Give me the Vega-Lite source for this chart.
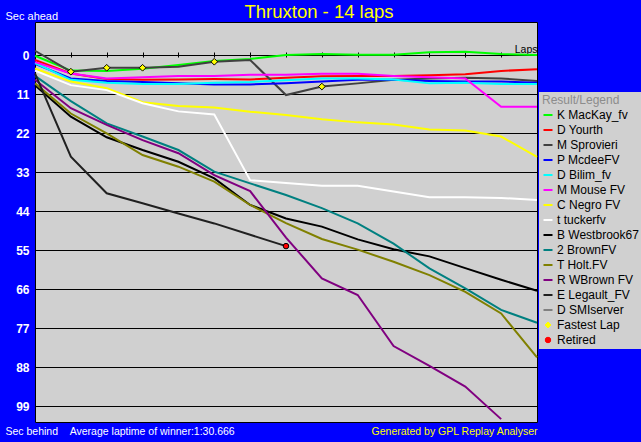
{
  "$schema": "https://vega.github.io/schema/vega-lite/v6.json",
  "width": 502,
  "height": 400,
  "autosize": {"type": "none"},
  "padding": {"left": 35, "top": 22, "right": 104, "bottom": 20},
  "background": "#0000ff",
  "title": {"text": "Thruxton - 14 laps", "color": "#ffff00", "font": "Liberation Sans", "fontSize": 18.5, "fontWeight": "normal", "anchor": "middle", "frame": "group", "baseline": "alphabetic", "offset": 0, "dx": 33, "dy": 26.5},
  "datasets": {
    "laps": [
      {"driver": "K MacKay_fv", "lap": 0, "sec": 0.2}, {"driver": "K MacKay_fv", "lap": 1, "sec": 4.4}, {"driver": "K MacKay_fv", "lap": 2, "sec": 4.5}, {"driver": "K MacKay_fv", "lap": 3, "sec": 3.9}, {"driver": "K MacKay_fv", "lap": 4, "sec": 2.8}, {"driver": "K MacKay_fv", "lap": 5, "sec": 1.7}, {"driver": "K MacKay_fv", "lap": 6, "sec": 1.1}, {"driver": "K MacKay_fv", "lap": 7, "sec": 0}, {"driver": "K MacKay_fv", "lap": 8, "sec": -0.3}, {"driver": "K MacKay_fv", "lap": 9, "sec": -0.1}, {"driver": "K MacKay_fv", "lap": 10, "sec": -0.1}, {"driver": "K MacKay_fv", "lap": 11, "sec": -0.8}, {"driver": "K MacKay_fv", "lap": 12, "sec": -0.9}, {"driver": "K MacKay_fv", "lap": 13, "sec": -0.3}, {"driver": "K MacKay_fv", "lap": 14, "sec": 0},
      {"driver": "D Yourth", "lap": 0, "sec": 1.4}, {"driver": "D Yourth", "lap": 1, "sec": 5.2}, {"driver": "D Yourth", "lap": 2, "sec": 6.8}, {"driver": "D Yourth", "lap": 3, "sec": 7.0}, {"driver": "D Yourth", "lap": 4, "sec": 6.9}, {"driver": "D Yourth", "lap": 5, "sec": 6.8}, {"driver": "D Yourth", "lap": 6, "sec": 6.9}, {"driver": "D Yourth", "lap": 7, "sec": 6.4}, {"driver": "D Yourth", "lap": 8, "sec": 6.0}, {"driver": "D Yourth", "lap": 9, "sec": 5.9}, {"driver": "D Yourth", "lap": 10, "sec": 5.9}, {"driver": "D Yourth", "lap": 11, "sec": 5.7}, {"driver": "D Yourth", "lap": 12, "sec": 5.4}, {"driver": "D Yourth", "lap": 13, "sec": 4.5}, {"driver": "D Yourth", "lap": 14, "sec": 4.0},
      {"driver": "M Sprovieri", "lap": 0, "sec": -1.2}, {"driver": "M Sprovieri", "lap": 1, "sec": 4.7}, {"driver": "M Sprovieri", "lap": 2, "sec": 3.6}, {"driver": "M Sprovieri", "lap": 3, "sec": 3.6}, {"driver": "M Sprovieri", "lap": 4, "sec": 3.3}, {"driver": "M Sprovieri", "lap": 5, "sec": 1.9}, {"driver": "M Sprovieri", "lap": 6, "sec": 1.4}, {"driver": "M Sprovieri", "lap": 7, "sec": 11.3}, {"driver": "M Sprovieri", "lap": 8, "sec": 8.9}, {"driver": "M Sprovieri", "lap": 9, "sec": 8.0}, {"driver": "M Sprovieri", "lap": 10, "sec": 7.0}, {"driver": "M Sprovieri", "lap": 11, "sec": 6.6}, {"driver": "M Sprovieri", "lap": 12, "sec": 6.4}, {"driver": "M Sprovieri", "lap": 13, "sec": 6.6}, {"driver": "M Sprovieri", "lap": 14, "sec": 7.3},
      {"driver": "P McdeeFV", "lap": 0, "sec": 2.5}, {"driver": "P McdeeFV", "lap": 1, "sec": 6.6}, {"driver": "P McdeeFV", "lap": 2, "sec": 7.3}, {"driver": "P McdeeFV", "lap": 3, "sec": 7.6}, {"driver": "P McdeeFV", "lap": 4, "sec": 8.0}, {"driver": "P McdeeFV", "lap": 5, "sec": 8.3}, {"driver": "P McdeeFV", "lap": 6, "sec": 8.3}, {"driver": "P McdeeFV", "lap": 7, "sec": 8.0}, {"driver": "P McdeeFV", "lap": 8, "sec": 7.5}, {"driver": "P McdeeFV", "lap": 9, "sec": 7.0}, {"driver": "P McdeeFV", "lap": 10, "sec": 7.0}, {"driver": "P McdeeFV", "lap": 11, "sec": 7.3}, {"driver": "P McdeeFV", "lap": 12, "sec": 7.5}, {"driver": "P McdeeFV", "lap": 13, "sec": 7.5}, {"driver": "P McdeeFV", "lap": 14, "sec": 7.8},
      {"driver": "D Bilim_fv", "lap": 0, "sec": 2.3}, {"driver": "D Bilim_fv", "lap": 1, "sec": 7.0}, {"driver": "D Bilim_fv", "lap": 2, "sec": 7.8}, {"driver": "D Bilim_fv", "lap": 3, "sec": 8.2}, {"driver": "D Bilim_fv", "lap": 4, "sec": 8.2}, {"driver": "D Bilim_fv", "lap": 5, "sec": 7.8}, {"driver": "D Bilim_fv", "lap": 6, "sec": 7.6}, {"driver": "D Bilim_fv", "lap": 7, "sec": 7.1}, {"driver": "D Bilim_fv", "lap": 8, "sec": 6.6}, {"driver": "D Bilim_fv", "lap": 9, "sec": 6.6}, {"driver": "D Bilim_fv", "lap": 10, "sec": 6.9}, {"driver": "D Bilim_fv", "lap": 11, "sec": 8.0}, {"driver": "D Bilim_fv", "lap": 12, "sec": 7.8}, {"driver": "D Bilim_fv", "lap": 13, "sec": 8.2}, {"driver": "D Bilim_fv", "lap": 14, "sec": 8.2},
      {"driver": "M Mouse FV", "lap": 0, "sec": 2.0}, {"driver": "M Mouse FV", "lap": 1, "sec": 5.2}, {"driver": "M Mouse FV", "lap": 2, "sec": 6.6}, {"driver": "M Mouse FV", "lap": 3, "sec": 6.3}, {"driver": "M Mouse FV", "lap": 4, "sec": 5.9}, {"driver": "M Mouse FV", "lap": 5, "sec": 5.9}, {"driver": "M Mouse FV", "lap": 6, "sec": 5.6}, {"driver": "M Mouse FV", "lap": 7, "sec": 5.6}, {"driver": "M Mouse FV", "lap": 8, "sec": 5.3}, {"driver": "M Mouse FV", "lap": 9, "sec": 5.3}, {"driver": "M Mouse FV", "lap": 10, "sec": 5.9}, {"driver": "M Mouse FV", "lap": 11, "sec": 6.3}, {"driver": "M Mouse FV", "lap": 12, "sec": 6.6}, {"driver": "M Mouse FV", "lap": 13, "sec": 14.6}, {"driver": "M Mouse FV", "lap": 14, "sec": 14.6},
      {"driver": "C Negro FV", "lap": 0, "sec": 3.8}, {"driver": "C Negro FV", "lap": 1, "sec": 7.5}, {"driver": "C Negro FV", "lap": 2, "sec": 9.4}, {"driver": "C Negro FV", "lap": 3, "sec": 13.3}, {"driver": "C Negro FV", "lap": 4, "sec": 14.4}, {"driver": "C Negro FV", "lap": 5, "sec": 14.8}, {"driver": "C Negro FV", "lap": 6, "sec": 16.0}, {"driver": "C Negro FV", "lap": 7, "sec": 16.9}, {"driver": "C Negro FV", "lap": 8, "sec": 18.1}, {"driver": "C Negro FV", "lap": 9, "sec": 19.0}, {"driver": "C Negro FV", "lap": 10, "sec": 19.6}, {"driver": "C Negro FV", "lap": 11, "sec": 21.0}, {"driver": "C Negro FV", "lap": 12, "sec": 21.3}, {"driver": "C Negro FV", "lap": 13, "sec": 23.0}, {"driver": "C Negro FV", "lap": 14, "sec": 28.7},
      {"driver": "t tuckerfv", "lap": 0, "sec": 4.4}, {"driver": "t tuckerfv", "lap": 1, "sec": 8.5}, {"driver": "t tuckerfv", "lap": 2, "sec": 9.9}, {"driver": "t tuckerfv", "lap": 3, "sec": 13.6}, {"driver": "t tuckerfv", "lap": 4, "sec": 15.9}, {"driver": "t tuckerfv", "lap": 5, "sec": 16.8}, {"driver": "t tuckerfv", "lap": 6, "sec": 35.3}, {"driver": "t tuckerfv", "lap": 7, "sec": 36.1}, {"driver": "t tuckerfv", "lap": 8, "sec": 36.9}, {"driver": "t tuckerfv", "lap": 9, "sec": 36.9}, {"driver": "t tuckerfv", "lap": 10, "sec": 38.5}, {"driver": "t tuckerfv", "lap": 11, "sec": 40.1}, {"driver": "t tuckerfv", "lap": 12, "sec": 40.1}, {"driver": "t tuckerfv", "lap": 13, "sec": 40.3}, {"driver": "t tuckerfv", "lap": 14, "sec": 40.9},
      {"driver": "B Westbrook67", "lap": 0, "sec": 8.5}, {"driver": "B Westbrook67", "lap": 1, "sec": 17.4}, {"driver": "B Westbrook67", "lap": 2, "sec": 23.2}, {"driver": "B Westbrook67", "lap": 3, "sec": 26.8}, {"driver": "B Westbrook67", "lap": 4, "sec": 30.1}, {"driver": "B Westbrook67", "lap": 5, "sec": 34.8}, {"driver": "B Westbrook67", "lap": 6, "sec": 42.3}, {"driver": "B Westbrook67", "lap": 7, "sec": 46.1}, {"driver": "B Westbrook67", "lap": 8, "sec": 48.4}, {"driver": "B Westbrook67", "lap": 9, "sec": 52.0}, {"driver": "B Westbrook67", "lap": 10, "sec": 54.8}, {"driver": "B Westbrook67", "lap": 11, "sec": 56.8}, {"driver": "B Westbrook67", "lap": 12, "sec": 60.1}, {"driver": "B Westbrook67", "lap": 13, "sec": 63.4}, {"driver": "B Westbrook67", "lap": 14, "sec": 66.5},
      {"driver": "2 BrownFV", "lap": 0, "sec": 5.9}, {"driver": "2 BrownFV", "lap": 1, "sec": 13.0}, {"driver": "2 BrownFV", "lap": 2, "sec": 19.3}, {"driver": "2 BrownFV", "lap": 3, "sec": 23.0}, {"driver": "2 BrownFV", "lap": 4, "sec": 26.8}, {"driver": "2 BrownFV", "lap": 5, "sec": 32.9}, {"driver": "2 BrownFV", "lap": 6, "sec": 36.2}, {"driver": "2 BrownFV", "lap": 7, "sec": 39.5}, {"driver": "2 BrownFV", "lap": 8, "sec": 43.2}, {"driver": "2 BrownFV", "lap": 9, "sec": 47.5}, {"driver": "2 BrownFV", "lap": 10, "sec": 53.2}, {"driver": "2 BrownFV", "lap": 11, "sec": 60.2}, {"driver": "2 BrownFV", "lap": 12, "sec": 65.8}, {"driver": "2 BrownFV", "lap": 13, "sec": 71.9}, {"driver": "2 BrownFV", "lap": 14, "sec": 75.5},
      {"driver": "T Holt.FV", "lap": 0, "sec": 8.0}, {"driver": "T Holt.FV", "lap": 1, "sec": 16.5}, {"driver": "T Holt.FV", "lap": 2, "sec": 22.1}, {"driver": "T Holt.FV", "lap": 3, "sec": 28.2}, {"driver": "T Holt.FV", "lap": 4, "sec": 31.5}, {"driver": "T Holt.FV", "lap": 5, "sec": 35.7}, {"driver": "T Holt.FV", "lap": 6, "sec": 42.3}, {"driver": "T Holt.FV", "lap": 7, "sec": 47.4}, {"driver": "T Holt.FV", "lap": 8, "sec": 51.9}, {"driver": "T Holt.FV", "lap": 9, "sec": 54.9}, {"driver": "T Holt.FV", "lap": 10, "sec": 58.3}, {"driver": "T Holt.FV", "lap": 11, "sec": 62.1}, {"driver": "T Holt.FV", "lap": 12, "sec": 66.8}, {"driver": "T Holt.FV", "lap": 13, "sec": 72.9}, {"driver": "T Holt.FV", "lap": 14, "sec": 85.3},
      {"driver": "R WBrown FV", "lap": 0, "sec": 7.0}, {"driver": "R WBrown FV", "lap": 1, "sec": 15.0}, {"driver": "R WBrown FV", "lap": 2, "sec": 19.7}, {"driver": "R WBrown FV", "lap": 3, "sec": 24.0}, {"driver": "R WBrown FV", "lap": 4, "sec": 27.7}, {"driver": "R WBrown FV", "lap": 5, "sec": 33.9}, {"driver": "R WBrown FV", "lap": 6, "sec": 38.4}, {"driver": "R WBrown FV", "lap": 7, "sec": 51.5}, {"driver": "R WBrown FV", "lap": 8, "sec": 63.0}, {"driver": "R WBrown FV", "lap": 9, "sec": 67.7}, {"driver": "R WBrown FV", "lap": 10, "sec": 82.1}, {"driver": "R WBrown FV", "lap": 11, "sec": 87.7}, {"driver": "R WBrown FV", "lap": 12, "sec": 93.5}, {"driver": "R WBrown FV", "lap": 13, "sec": 102.7},
      {"driver": "E Legault_FV", "lap": 0, "sec": 5.2}, {"driver": "E Legault_FV", "lap": 1, "sec": 28.7}, {"driver": "E Legault_FV", "lap": 2, "sec": 39.0}, {"driver": "E Legault_FV", "lap": 3, "sec": 41.8}, {"driver": "E Legault_FV", "lap": 4, "sec": 44.7}, {"driver": "E Legault_FV", "lap": 5, "sec": 47.5}, {"driver": "E Legault_FV", "lap": 6, "sec": 50.7}, {"driver": "E Legault_FV", "lap": 7, "sec": 53.9}
    ],
    "fastest": [
      {"driver": "Fastest Lap", "lap": 1, "sec": 4.7}, {"driver": "Fastest Lap", "lap": 2, "sec": 3.6}, {"driver": "Fastest Lap", "lap": 3, "sec": 3.6}, {"driver": "Fastest Lap", "lap": 5, "sec": 1.9}, {"driver": "Fastest Lap", "lap": 8, "sec": 8.9}
    ],
    "retired": [
      {"driver": "Retired", "lap": 7, "sec": 53.9}
    ]
  },
  "layer": [
    {
      "data": {"name": "laps"},
      "mark": {"type": "line", "strokeWidth": 2, "interpolate": "linear"},
      "encoding": {
        "x": {"field": "lap", "type": "quantitative", "scale": {"domain": [0, 14], "nice": false, "zero": false},
          "axis": {"orient": "top", "offset": -35, "values": [0,1,2,3,4,5,6,7,8,9,10,11,12,13,14], "labels": false, "domain": false, "grid": false, "ticks": true, "tickColor": "#000000", "tickSize": 5, "tickWidth": 1, "title": "Laps", "titleColor": "#000000", "titleFont": "Liberation Sans", "titleFontSize": 10.5, "titleFontWeight": "normal", "titleX": 502, "titleY": -5, "titleAlign": "right", "titleBaseline": "alphabetic", "titleAngle": 0}},
        "y": {"field": "sec", "type": "quantitative", "scale": {"domain": [-9.31, 103.51], "reverse": true, "nice": false, "zero": false},
          "axis": {"orient": "left", "values": [0,11,22,33,44,55,66,77,88,99], "grid": true, "gridColor": "#000000", "gridOpacity": 1, "gridWidth": 1, "domain": false, "ticks": false, "labelColor": "#ffffff", "labelFont": "Liberation Sans", "labelFontSize": 12, "labelFontWeight": "bold", "labelPadding": 6, "title": "Sec ahead", "titleColor": "#ffffff", "titleFont": "Liberation Sans", "titleFontSize": 11, "titleFontWeight": "normal", "titleAngle": 0, "titleX": -30, "titleY": -3, "titleAlign": "left", "titleBaseline": "alphabetic"}},
        "color": {"field": "driver", "type": "nominal",
          "scale": {"domain": ["K MacKay_fv", "D Yourth", "M Sprovieri", "P McdeeFV", "D Bilim_fv", "M Mouse FV", "C Negro FV", "t tuckerfv", "B Westbrook67", "2 BrownFV", "T Holt.FV", "R WBrown FV", "E Legault_FV", "D SMIserver", "Fastest Lap", "Retired"],
                    "range": ["#00ff00", "#ff0000", "#404040", "#0000ff", "#00ffff", "#ff00ff", "#ffff00", "#ffffff", "#000000", "#008080", "#808000", "#800080", "#202020", "#808080", "#ffff00", "#ff0000"]},
          "legend": {"orient": "none", "legendX": 504, "legendY": 70, "title": "Result/Legend", "titleColor": "#8c8c8c", "titleFont": "Liberation Sans", "titleFontSize": 12, "titleFontWeight": "normal", "titlePadding": 2, "fillColor": "#d0d0d0", "padding": 3, "labelFont": "Liberation Sans", "labelFontSize": 12, "labelColor": "#000000", "labelOffset": 3, "labelLimit": 200, "rowPadding": 3, "symbolType": "stroke", "symbolSize": 81, "symbolStrokeWidth": 2,
            "encode": {"symbols": {"update": {
              "shape": {"signal": "datum.value === 'Fastest Lap' ? 'diamond' : datum.value === 'Retired' ? 'circle' : 'stroke'"},
              "size": {"signal": "datum.value === 'Fastest Lap' ? 36 : datum.value === 'Retired' ? 30 : 81"},
              "fill": {"signal": "datum.value === 'Fastest Lap' || datum.value === 'Retired' ? scale('color', datum.value) : 'transparent'"},
              "stroke": {"signal": "datum.value === 'Fastest Lap' || datum.value === 'Retired' ? '#000000' : scale('color', datum.value)"},
              "strokeWidth": {"signal": "datum.value === 'Fastest Lap' || datum.value === 'Retired' ? 1 : 2"},
              "opacity": {"value": 1}
            }}}}
        }
      }
    },
    {
      "data": {"name": "fastest"},
      "mark": {"type": "point", "shape": "diamond", "filled": true, "size": 45, "stroke": "#000000", "strokeWidth": 1, "opacity": 1},
      "encoding": {
        "x": {"field": "lap", "type": "quantitative", "scale": {"domain": [0, 14], "nice": false, "zero": false},
          "axis": {"orient": "bottom", "labels": false, "ticks": false, "domain": false, "grid": false, "title": "Sec behind\u00a0\u00a0\u00a0\u00a0Average laptime of winner:1:30.666", "titleColor": "#ffffff", "titleFont": "Liberation Sans", "titleFontSize": 10.5, "titleFontWeight": "normal", "titleX": -30, "titleY": 12, "titleAlign": "left", "titleBaseline": "alphabetic", "titleAngle": 0}},
        "y": {"field": "sec", "type": "quantitative", "scale": {"domain": [-9.31, 103.51], "reverse": true, "nice": false, "zero": false},
          "axis": {"orient": "right", "labels": false, "ticks": false, "domain": false, "grid": false, "title": "Generated by GPL Replay Analyser", "titleColor": "#ffff00", "titleFont": "Liberation Sans", "titleFontSize": 10.5, "titleFontWeight": "normal", "titleAngle": 0, "titleX": 0, "titleY": 412, "titleAlign": "right", "titleBaseline": "alphabetic"}},
        "color": {"field": "driver", "type": "nominal",
          "scale": {"domain": ["K MacKay_fv", "D Yourth", "M Sprovieri", "P McdeeFV", "D Bilim_fv", "M Mouse FV", "C Negro FV", "t tuckerfv", "B Westbrook67", "2 BrownFV", "T Holt.FV", "R WBrown FV", "E Legault_FV", "D SMIserver", "Fastest Lap", "Retired"],
                    "range": ["#00ff00", "#ff0000", "#404040", "#0000ff", "#00ffff", "#ff00ff", "#ffff00", "#ffffff", "#000000", "#008080", "#808000", "#800080", "#202020", "#808080", "#ffff00", "#ff0000"]}}
      }
    },
    {
      "data": {"name": "retired"},
      "mark": {"type": "point", "shape": "circle", "filled": true, "size": 30, "stroke": "#000000", "strokeWidth": 1, "opacity": 1},
      "encoding": {
        "x": {"field": "lap", "type": "quantitative", "scale": {"domain": [0, 14], "nice": false, "zero": false}, "axis": null},
        "y": {"field": "sec", "type": "quantitative", "scale": {"domain": [-9.31, 103.51], "reverse": true, "nice": false, "zero": false}, "axis": null},
        "color": {"field": "driver", "type": "nominal",
          "scale": {"domain": ["K MacKay_fv", "D Yourth", "M Sprovieri", "P McdeeFV", "D Bilim_fv", "M Mouse FV", "C Negro FV", "t tuckerfv", "B Westbrook67", "2 BrownFV", "T Holt.FV", "R WBrown FV", "E Legault_FV", "D SMIserver", "Fastest Lap", "Retired"],
                    "range": ["#00ff00", "#ff0000", "#404040", "#0000ff", "#00ffff", "#ff00ff", "#ffff00", "#ffffff", "#000000", "#008080", "#808000", "#800080", "#202020", "#808080", "#ffff00", "#ff0000"]}}
      }
    }
  ],
  "resolve": {"axis": {"x": "independent", "y": "independent"}},
  "config": {
    "font": "Liberation Sans",
    "view": {"fill": "#d0d0d0", "stroke": "#000000", "strokeWidth": 1}
  }
}
